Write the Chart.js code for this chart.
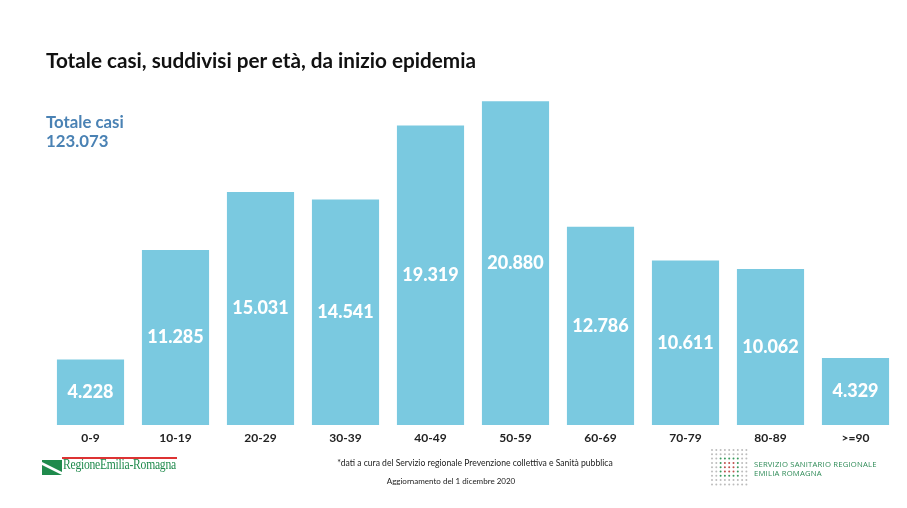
<!DOCTYPE html>
<html><head><meta charset="utf-8">
<script src="https://cdn.jsdelivr.net/npm/chart.js@4/dist/chart.umd.min.js"></script>
<style>
html,body{margin:0;padding:0;background:#fff;}
#wrap{position:relative;width:907px;height:508px;overflow:hidden;font-family:"Lato","Open Sans",sans-serif;}
#c{position:absolute;left:0;top:0;}
.t{position:absolute;white-space:nowrap;}
#title{left:46px;top:48px;font-size:20.7px;font-weight:700;color:#111;}
#sub1{left:46px;top:112px;font-size:16.8px;font-weight:700;color:#4a82b4;line-height:19px;}
#note{left:0;width:950px;text-align:center;top:458px;font-size:8.6px;color:#222;}
#upd{left:0;width:902px;text-align:center;top:476px;font-size:8px;color:#222;}
#rer{left:63px;top:457px;font-family:"Liberation Serif",serif;font-size:14px;color:#1f8a4c;transform:scaleX(0.83);transform-origin:left top;letter-spacing:-0.3px;}
#rline{position:absolute;left:62px;top:457px;width:115px;height:2px;background:#d33;}
#flag{position:absolute;left:42px;top:460px;}
#ssr{left:754px;top:460px;font-size:7.7px;color:#2e8b57;line-height:9px;letter-spacing:0.2px;font-family:"Open Sans",sans-serif;}
#dots{position:absolute;left:710px;top:448px;}
</style></head>
<body><div id="wrap">
<canvas id="c" width="907" height="508"></canvas>
<div class="t" id="title">Totale casi, suddivisi per età, da inizio epidemia</div>
<div class="t" id="sub1">Totale casi<br>123.073</div>
<div id="rline"></div>
<svg id="flag" width="20" height="15"><rect x="0" y="0" width="20" height="15" fill="#1f8a4c"/><polygon points="0,2 20,12 20,15 0,5" fill="#fff"/></svg>
<div class="t" id="rer">RegioneEmilia-Romagna</div>
<div class="t" id="note">*dati a cura del Servizio regionale Prevenzione collettiva e Sanità pubblica</div>
<div class="t" id="upd">Aggiornamento del 1 dicembre 2020</div>
<svg id="dots" width="40" height="40"></svg>
<div class="t" id="ssr">SERVIZIO SANITARIO REGIONALE<br>EMILIA ROMAGNA</div>
</div>
<script>
const categories = ["0-9","10-19","20-29","30-39","40-49","50-59","60-69","70-79","80-89",">=90"];
const cases = [4228, 11285, 15031, 14541, 19319, 20880, 12786, 10611, 10062, 4329];

// decorative dot grid
(function(){
  const svg = document.getElementById('dots');
  let s = '';
  for (let r = 0; r < 9; r++) for (let c = 0; c < 9; c++) {
    const dr = Math.abs(r-4), dc = Math.abs(c-4);
    let col = '#bcbcbc';
    if (dr <= 1 && dc <= 1) col = '#c0504d';
    else if (dr <= 2 && dc <= 2) col = '#3c9a5f';
    s += `<circle cx="${2+c*4.3}" cy="${2+r*4.3}" r="1" fill="${col}"/>`;
  }
  svg.innerHTML = s;
})();

function fmt(v){ return String(v).replace(/\B(?=(\d{3})+(?!\d))/g, '.'); }

const labelPlugin = {
  id: 'barLabels',
  afterDatasetsDraw(chart){
    const ctx = chart.ctx;
    const meta = chart.getDatasetMeta(0);
    ctx.save();
    ctx.fillStyle = '#ffffff';
    ctx.font = '900 18px Lato, "Open Sans", sans-serif';
    ctx.textAlign = 'center';
    ctx.textBaseline = 'middle';
    meta.data.forEach((bar, i) => {
      const y = (bar.y + bar.base) / 2;
      ctx.fillText(fmt(cases[i]), bar.x, y);
    });
    ctx.restore();
  }
};

new Chart(document.getElementById('c'), {
  type: 'bar',
  data: {
    labels: categories,
    datasets: [{ data: cases, backgroundColor: '#7ac9e0', borderWidth: 0, barPercentage: 0.79, categoryPercentage: 1.0 }]
  },
  options: {
    responsive: false,
    animation: false,
    layout: { padding: { left: 48, right: 9, top: 84, bottom: 0 } },
    plugins: { legend: { display: false }, tooltip: { enabled: false } },
    scales: {
      x: {
        grid: { display: false, drawTicks: false },
        border: { display: false },
        ticks: { color: '#222', font: { family: 'Lato, "Open Sans", sans-serif', weight: '700', size: 12 }, padding: 6, maxRotation: 0, autoSkip: false },
        afterFit(axis){ axis.height = 83; }
      },
      y: { display: false, min: 0, max: 22000 }
    }
  },
  plugins: [labelPlugin]
});
</script>
</body></html>
